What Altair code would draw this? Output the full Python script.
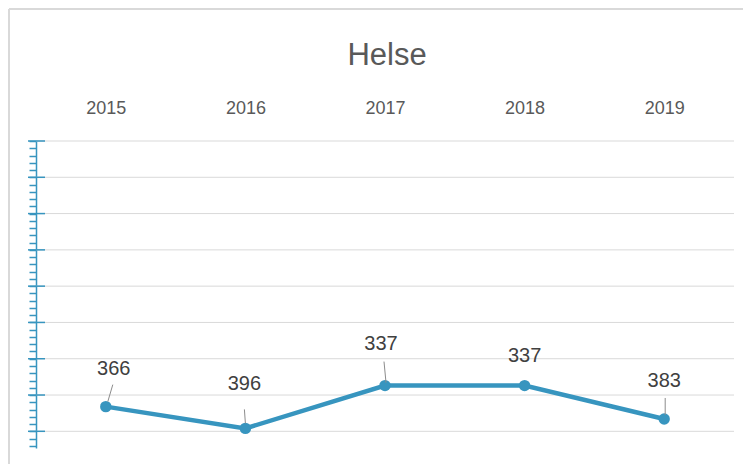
import altair as alt
import pandas as pd

years = ["2015", "2016", "2017", "2018", "2019"]
values = [366, 396, 337, 337, 383]

grid_values = [0, 50, 100, 150, 200, 250, 300, 350, 400]
minor_values = list(range(0, 430, 10))
title_text = "Helse"

# label placement (pixels) relative to each point: (dx, dy)
label_offsets = [(8, -38), (-1, -44), (-4, -42), (0, -30), (0, -38)]
# leader lines: (x_start, y_start, x_end, y_end) pixel offsets from the point
leader_offsets = [(2, -5, 7, -22), (0, -5, -1, -19), (1, -3, -1, -24), None, (1, -4, 1, -21)]

BLUE = "#3795bf"
GRID = "#d9d9d9"
W, H = 698, 307

df = pd.DataFrame({"year": years, "value": values})
grid_df = pd.DataFrame({"g": grid_values})

x_axis = alt.Axis(orient="top", title=None, domain=False, ticks=False,
                  labelAngle=0, labelColor="#595959", labelFontSize=18,
                  labelFont="Liberation Sans", labelPadding=24)
x_scale = alt.Scale(type="point", padding=0.5)
y_scale = alt.Scale(domain=[0, 423], reverse=True, nice=False, zero=False)
y_axis = alt.Axis(values=minor_values, labels=False, grid=False, title=None,
                  tickSize=7, tickColor=BLUE, tickWidth=1.5,
                  domainColor=BLUE, domainWidth=1.5)


def X():
    return alt.X("year:N", sort=years, scale=x_scale, axis=x_axis)


def Y(field="value:Q"):
    return alt.Y(field, scale=y_scale, axis=y_axis)


base = alt.Chart(df)

gridlines = alt.Chart(grid_df).mark_rule(color=GRID, strokeWidth=1).encode(
    y=Y("g:Q"), x=alt.value(0), x2=alt.value(W))

major_ticks = alt.Chart(grid_df).mark_rule(color=BLUE, strokeWidth=1.5).encode(
    y=Y("g:Q"), x=alt.value(-8), x2=alt.value(9))

line = base.mark_line(color=BLUE, strokeWidth=4.5).encode(x=X(), y=Y())
points = base.mark_circle(color=BLUE, size=130, opacity=1).encode(x=X(), y=Y())

layers = [gridlines, major_ticks, line, points]

for i, yr in enumerate(years):
    dx, dy = label_offsets[i]
    sub = base.transform_filter(alt.datum.year == yr)
    layers.append(sub.mark_text(fontSize=20, font="Liberation Sans", color="#404040",
                                dx=dx, dy=dy, baseline="middle", align="center").encode(
        x=X(), y=Y(), text=alt.Text("value:Q")))
    lo = leader_offsets[i]
    if lo is not None:
        layers.append(sub.mark_rule(color="#8c8c8c", strokeWidth=1,
                                    xOffset=lo[0], yOffset=lo[1],
                                    x2Offset=lo[2], y2Offset=lo[3]).encode(
            x=X(), x2=alt.X2("year:N"), y=Y(), y2=alt.Y2("value:Q")))

# chart title and outer frame (top and left edges)
title_mark = alt.Chart(pd.DataFrame({"t": [title_text]})).mark_text(
    fontSize=31, font="Liberation Sans", color="#595959",
    align="center", baseline="middle").encode(
    text="t:N", x=alt.value(W / 2 + 2), y=alt.value(-85))
frame_top = alt.Chart(df).mark_rule(color="#d9d9d9", strokeWidth=2).encode(
    x=alt.value(-27), x2=alt.value(W + 40), y=alt.value(-132))
frame_left = alt.Chart(df).mark_rule(color="#d9d9d9", strokeWidth=2).encode(
    x=alt.value(-27), y=alt.value(-132), y2=alt.value(H + 40))
layers += [title_mark, frame_top, frame_left]

chart = alt.layer(*layers).properties(
    width=W, height=H,
    padding={"left": 28, "top": 133, "right": 9, "bottom": 16},
    autosize=alt.AutoSizeParams(type="none"),
).configure_view(stroke=None)

chart.save("out.html", embed_options={"renderer": "svg", "actions": False})
